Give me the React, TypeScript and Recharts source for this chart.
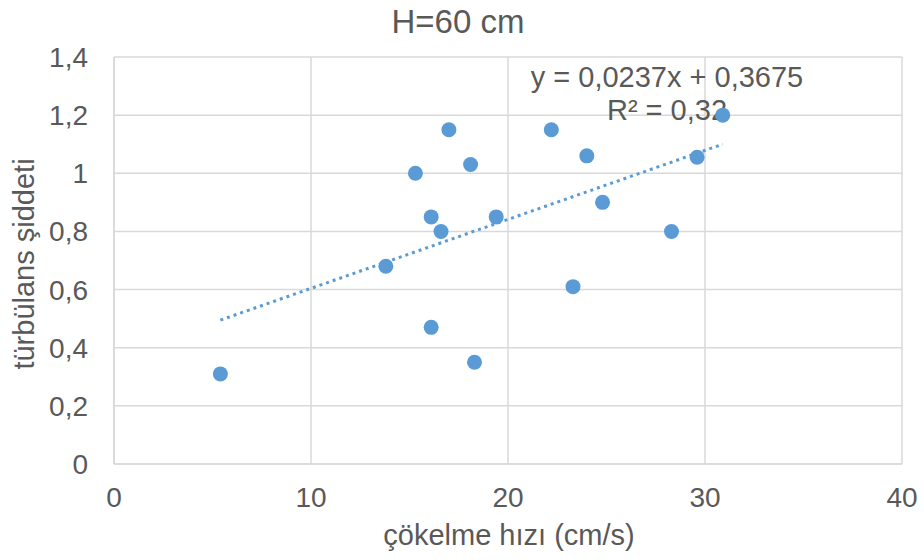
import { ScatterChart, Scatter, XAxis, YAxis, CartesianGrid, ReferenceLine, Customized } from "recharts";

// settling velocity (cm/s) vs turbulence intensity, H = 60 cm
const velocity = [5.4, 13.8, 15.3, 16.1, 16.1, 16.6, 17.0, 18.1, 18.3, 19.4, 22.2, 23.3, 24.0, 24.8, 28.3, 29.6, 30.9];
const turbulence = [0.31, 0.68, 1.0, 0.85, 0.47, 0.8, 1.15, 1.03, 0.35, 0.85, 1.15, 0.61, 1.06, 0.9, 0.8, 1.055, 1.2];

const xTicks = [0, 10, 20, 30, 40];
const yTicks = [0, 0.2, 0.4, 0.6, 0.8, 1, 1.2, 1.4];

// linear trend ends (y = 0,0237x + 0,3675), spanning the data range
const trendX = [5.4, 30.9];
const trendY = [0.495, 1.1];

const TEXT = "#595959";
const GRID = "#d9d9d9";
const BLUE = "#5b9bd5";
const FONT = "'Liberation Sans', Arial, sans-serif";

const points = velocity.map((x, i) => ({ x, y: turbulence[i] }));

const comma = (v: number) => String(v).replace(".", ",");

function Texts() {
  return (
    <g fontFamily={FONT} fill={TEXT}>
      <text x={458} y={33} fontSize={33} textAnchor="middle">H=60 cm</text>
      <text x={667} y={87} fontSize={29} textAnchor="middle">y = 0,0237x + 0,3675</text>
      <text x={667} y={120} fontSize={29} textAnchor="middle">R² = 0,32</text>
      <text x={509} y={545} fontSize={29} textAnchor="middle">çökelme hızı (cm/s)</text>
      <text x={34} y={264} fontSize={29} textAnchor="middle" transform="rotate(-90, 34, 264)">
        türbülans şiddeti
      </text>
    </g>
  );
}

export default function App() {
  return (
    <div style={{ position: "absolute", left: 0, top: 0, width: 924, height: 560, background: "#fff" }}>
      <ScatterChart width={924} height={560} margin={{ top: 57, right: 22, bottom: 36, left: 0 }}>
        <CartesianGrid stroke={GRID} strokeWidth={1.5} />
        <XAxis
          type="number"
          dataKey="x"
          domain={[0, 40]}
          ticks={xTicks}
          height={60}
          tickLine={false}
          tickSize={0}
          tickMargin={23}
          axisLine={{ stroke: GRID, strokeWidth: 1.5 }}
          tick={{ fill: TEXT, fontSize: 28, fontFamily: FONT }}
        />
        <YAxis
          type="number"
          dataKey="y"
          domain={[0, 1.4]}
          ticks={yTicks}
          width={114}
          tickLine={false}
          tickSize={0}
          tickMargin={26}
          tickFormatter={comma}
          axisLine={{ stroke: GRID, strokeWidth: 1.5 }}
          tick={{ fill: TEXT, fontSize: 28, fontFamily: FONT }}
        />
        <ReferenceLine
          segment={[
            { x: trendX[0], y: trendY[0] },
            { x: trendX[1], y: trendY[1] },
          ]}
          stroke={BLUE}
          strokeWidth={3}
          strokeDasharray="3 4"
        />
        <Scatter
          data={points}
          isAnimationActive={false}
          shape={(p: any) => <circle cx={p.cx} cy={p.cy} r={7.5} fill={BLUE} />}
        />
        <Customized component={Texts} />
      </ScatterChart>
    </div>
  );
}
